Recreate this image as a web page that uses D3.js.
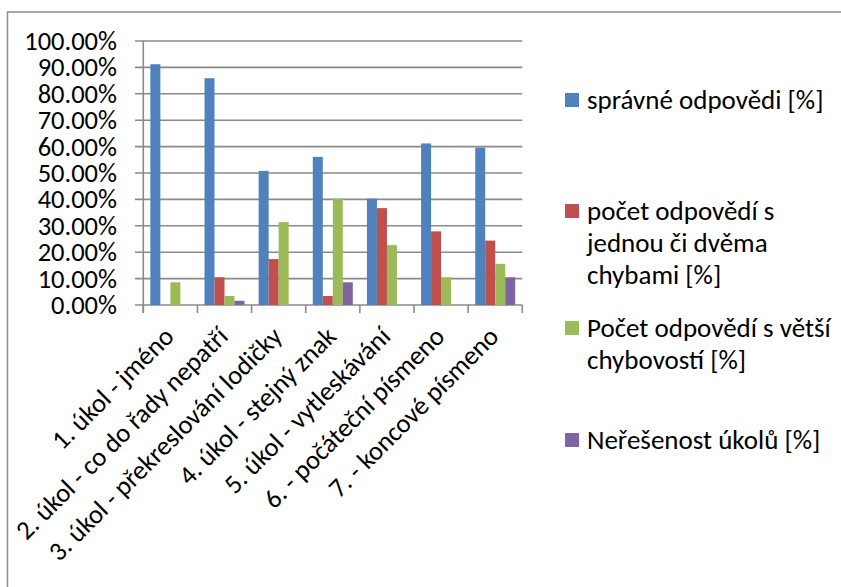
<!DOCTYPE html>
<html><head><meta charset="utf-8">
<script src="https://cdn.jsdelivr.net/npm/d3@7"></script>
<style>body{margin:0;background:#fff}svg{display:block}text{font-family:Carlito,Lato,"Open Sans",sans-serif;fill:#000}</style>
</head><body><svg id="c" width="841" height="587"></svg>
<script>
const categories = ["1. úkol - jméno","2. úkol - co do řady nepatří","3. úkol -  překreslování lodičky","4. úkol - stejný znak","5. úkol - vytleskávání","6. - počáteční písmeno","7. - koncové písmeno"];
const seriesNames = ["správné odpovědi [%]","počet odpovědí s jednou či dvěma chybami [%]","Počet odpovědí s větší chybovostí [%]","Neřešenost úkolů [%]"];
const legendLines = [["správné odpovědi [%]"],["počet odpovědí s","jednou či dvěma","chybami [%]"],["Počet odpovědí s větší","chybovostí [%]"],["Neřešenost úkolů [%]"]];
const correct = [0.912,0.859,0.508,0.561,0.403,0.612,0.596];
const oneTwoErrors = [0,0.105,0.174,0.034,0.367,0.279,0.244];
const moreErrors = [0.086,0.034,0.314,0.403,0.227,0.105,0.156];
const unsolved = [0,0.016,0,0.086,0,0,0.105];
const yTicks = [0,0.1,0.2,0.3,0.4,0.5,0.6,0.7,0.8,0.9,1.0];
const colors = ["#4F81BD","#C0504D","#9BBB59","#8064A2"];
const series = [correct, oneTwoErrors, moreErrors, unsolved];

const svg = d3.select("#c");
svg.append("rect").attr("x",7.5).attr("y",12).attr("width",900).attr("height",700)
  .attr("fill","none").attr("stroke","#8c8c8c").attr("stroke-width",1.5);

const x0 = d3.scaleBand().domain(categories).range([143.3,522.3]).padding(0);
const x1 = d3.scaleBand().domain(d3.range(4)).range([7.07,47.07]).padding(0);
const y = d3.scaleLinear().domain([0,1]).range([305,41]);

const grid = svg.append("g");
yTicks.forEach(t=>{
  grid.append("line").attr("x1",135).attr("x2",522.3).attr("y1",y(t)).attr("y2",y(t))
    .attr("stroke","#8a8a8a").attr("stroke-width",1.6);
});
grid.append("line").attr("x1",143.3).attr("x2",143.3).attr("y1",y(1)).attr("y2",313)
  .attr("stroke","#8a8a8a").attr("stroke-width",1.6);
categories.concat(["end"]).forEach((c,i)=>{
  const xx = 143.3 + i*x0.bandwidth();
  grid.append("line").attr("x1",xx).attr("x2",xx).attr("y1",305).attr("y2",313)
    .attr("stroke","#8a8a8a").attr("stroke-width",1.6);
});

const fmt = d3.format(".2%");
svg.append("g").selectAll("text").data(yTicks).join("text")
  .attr("x",117).attr("y",d=>y(d)).attr("dy","0.34em").attr("text-anchor","end")
  .attr("font-size",26.5).text(d=>fmt(d));

const bars = svg.append("g");
series.forEach((vals,si)=>{
  bars.selectAll(null).data(vals.map((v,i)=>({v,c:categories[i]}))).join("rect")
    .filter(d=>d.v>0)
    .attr("x",d=>x0(d.c)+x1(si)).attr("width",x1.bandwidth())
    .attr("y",d=>y(d.v)).attr("height",d=>y(0)-y(d.v)).attr("fill",colors[si]);
});

svg.append("g").selectAll("text").data(categories).join("text")
  .attr("transform",d=>`translate(${x0(d)+x0.bandwidth()/2+5},${338}) rotate(-45)`)
  .attr("text-anchor","end").attr("font-size",26.5).text(d=>d);

const legY = [100,211,328,440];
const leg = svg.append("g");
legendLines.forEach((lines,i)=>{
  leg.append("rect").attr("x",565).attr("y",legY[i]-7).attr("width",14).attr("height",14).attr("fill",colors[i]);
  lines.forEach((l,j)=>{
    leg.append("text").attr("x",587).attr("y",legY[i]+j*32).attr("dy","0.35em").attr("font-size",27).text(l);
  });
});
</script></body></html>
